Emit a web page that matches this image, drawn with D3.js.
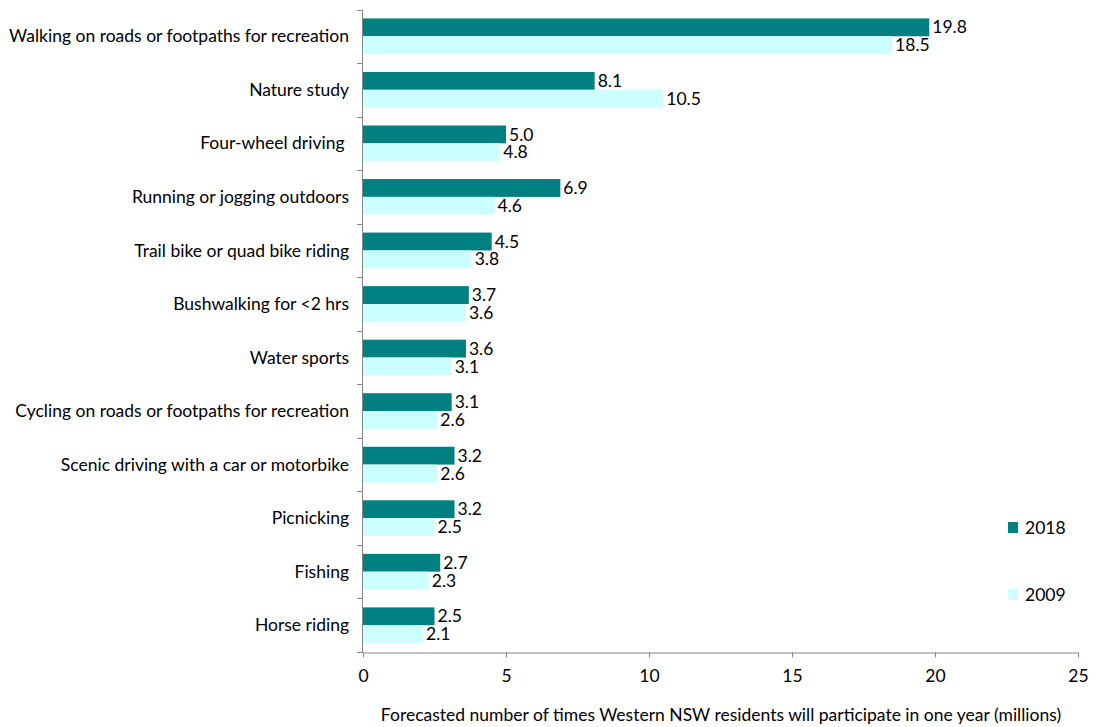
<!DOCTYPE html>
<html>
<head>
<meta charset="utf-8">
<script src="https://cdn.jsdelivr.net/npm/d3@7"></script>
<style>
  html, body { margin: 0; padding: 0; background: #fff; }
  svg text { font-family: Lato, "Open Sans", sans-serif; fill: #000; white-space: pre; }
</style>
</head>
<body>
<svg id="chart" width="1096" height="727"></svg>
<script>
// Activities, top to bottom
const categories = [
  "Walking on roads or footpaths for recreation",
  "Nature study",
  "Four-wheel driving ",
  "Running or jogging outdoors",
  "Trail bike or quad bike riding",
  "Bushwalking for <2 hrs",
  "Water sports",
  "Cycling on roads or footpaths for recreation",
  "Scenic driving with a car or motorbike",
  "Picnicking",
  "Fishing",
  "Horse riding"
];
// Forecast participation (millions)
const values2018 = [19.8, 8.1, 5.0, 6.9, 4.5, 3.7, 3.6, 3.1, 3.2, 3.2, 2.7, 2.5];
const values2009 = [18.5, 10.5, 4.8, 4.6, 3.8, 3.6, 3.1, 2.6, 2.6, 2.5, 2.3, 2.1];
const seriesNames = ["2018", "2009"];
const xTicks = [0, 5, 10, 15, 20, 25];
const xTitle = "Forecasted number of times Western NSW residents will participate in one year (millions)";

const colors = { "2018": "#008080", "2009": "#CCFFFF" };
const fontSize = 17.5;
const svg = d3.select("#chart");

const plotLeft = 363, plotRight = 1078, plotTop = 9.5, plotBottom = 652;

const x = d3.scaleLinear().domain([0, 25]).range([plotLeft, plotRight]);
const y = d3.scaleBand().domain(categories).range([plotTop, plotBottom]).paddingInner(0).paddingOuter(0);
const inner = d3.scaleBand().domain(seriesNames).range([0, y.bandwidth()]).paddingInner(0).paddingOuter(0.5);

const series = [
  { name: "2018", values: values2018 },
  { name: "2009", values: values2009 }
];

// Bars and value labels
series.forEach(s => {
  const rows = categories.map((c, i) => ({ c, v: s.values[i] }));
  const g = svg.append("g");
  g.selectAll("rect")
    .data(rows)
    .join("rect")
    .attr("x", x(0))
    .attr("y", d => y(d.c) + inner(s.name))
    .attr("width", d => x(d.v) - x(0))
    .attr("height", inner.bandwidth())
    .attr("fill", colors[s.name]);
  g.selectAll("text")
    .data(rows)
    .join("text")
    .attr("x", d => x(d.v) + 3)
    .attr("y", d => y(d.c) + inner(s.name) + inner.bandwidth() / 2)
    .attr("dy", "0.35em")
    .attr("font-size", fontSize)
    .text(d => d.v.toFixed(1));
});

// Y axis: line with ticks at category boundaries
const yAxis = svg.append("g");
yAxis.append("line")
  .attr("x1", plotLeft - 0.5).attr("x2", plotLeft - 0.5)
  .attr("y1", plotTop).attr("y2", plotBottom)
  .attr("stroke", "#868686");
const bounds = categories.map(c => y(c)).concat([plotBottom]);
yAxis.selectAll("line.tick").data(bounds).join("line")
  .attr("class", "tick")
  .attr("x1", plotLeft - 6).attr("x2", plotLeft)
  .attr("y1", d => Math.round(d) + 0.5).attr("y2", d => Math.round(d) + 0.5)
  .attr("stroke", "#868686");
yAxis.selectAll("text").data(categories).join("text")
  .attr("x", 349)
  .attr("y", d => y(d) + y.bandwidth() / 2)
  .attr("dy", "0.35em")
  .attr("text-anchor", "end")
  .attr("font-size", fontSize)
  .text(d => d);

// X axis
const xAxis = svg.append("g").attr("transform", `translate(0,${plotBottom + 0.5})`)
  .call(d3.axisBottom(x).tickValues(xTicks).tickSize(5).tickSizeOuter(0).tickPadding(12));
xAxis.select(".domain").attr("stroke", "#868686");
xAxis.selectAll(".tick line").attr("stroke", "#868686");
xAxis.selectAll(".tick text").attr("font-size", fontSize).attr("font-family", "Lato, sans-serif").attr("fill", "#000");

svg.append("text")
  .attr("x", 721).attr("y", 715)
  .attr("dy", "0.35em")
  .attr("text-anchor", "middle")
  .attr("font-size", fontSize)
  .text(xTitle);

// Legend
const legendY = { "2018": 528, "2009": 595 };
seriesNames.forEach(n => {
  svg.append("rect")
    .attr("x", 1008).attr("y", legendY[n] - 6)
    .attr("width", 10).attr("height", 11)
    .attr("fill", colors[n]);
  svg.append("text")
    .attr("x", 1025).attr("y", legendY[n])
    .attr("dy", "0.35em")
    .attr("font-size", fontSize)
    .text(n);
});
</script>
</body>
</html>
